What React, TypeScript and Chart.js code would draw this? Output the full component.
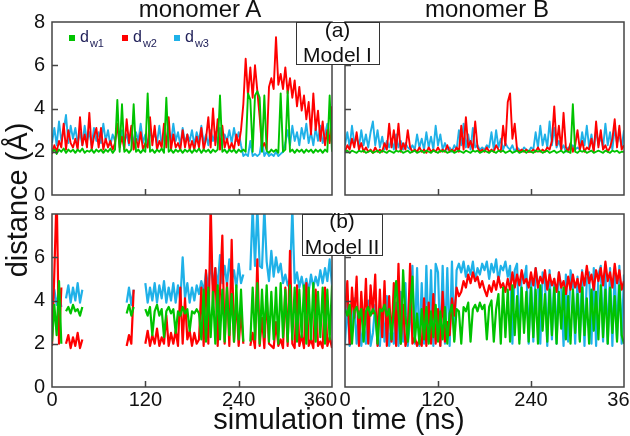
import React, { useEffect, useRef } from "react";
import { Chart, registerables } from "chart.js";

Chart.register(...registerables);

const FONT = "'Liberation Sans', Arial, Helvetica, sans-serif";

// ---- axes ----
const STEP_NS = 3; // sampling step of the series (ns)
const X_MIN = 0;
const X_MAX = 360;
const X_TICKS = [0, 120, 240, 360];
const Y_MIN = 0;
const Y_MAX = 8;
const Y_STEP = 2;
const INNER_X_TICKS = [120, 240];
const INNER_Y_TICKS = [2, 4, 6];

// ---- series ----
const SERIES_SUBS = ["w1", "w2", "w3"];
const SERIES_COLORS = ["#00c300", "#ff0000", "#1fb1e8"];

// Model I, monomer A
const A1_DW1 = [
  2.0, 2.1, 1.9, 2.1, 2.0, 2.15, 1.95, 2.1, 2.0, 2.1,
  1.95, 2.1, 2.0, 2.15, 1.95, 2.05, 2.0, 2.1, 1.95, 2.1,
  2.0, 2.1, 1.95, 2.1, 2.0, 2.15, 1.95, 2.1, 4.4, 2.0,
  4.2, 2.0, 2.1, 1.95, 2.1, 4.2, 2.0, 2.1, 1.95, 2.1,
  2.0, 4.7, 2.0, 2.1, 1.95, 2.1, 2.0, 2.15, 1.95, 4.5,
  2.0, 2.1, 1.95, 2.1, 2.0, 2.1, 1.95, 2.1, 2.0, 2.1,
  1.95, 2.1, 2.0, 2.15, 1.95, 2.1, 2.0, 2.1, 1.95, 2.1,
  2.0, 2.1, 4.6, 2.0, 2.1, 1.95, 2.1, 2.0, 2.1, 1.95,
  2.1, 2.0, 2.1, 2.0, 4.7, 4.4, 2.0, 4.6, 4.8, 4.5,
  2.0, 4.6, 2.05, 1.95, 2.1, 2.0, 2.1, 1.95, 4.7, 2.0,
  2.1, 4.8, 2.0, 2.1, 1.95, 2.1, 2.0, 2.1, 1.95, 2.1,
  2.0, 2.1, 1.95, 2.1, 2.0, 2.1, 1.95, 2.1, 2.0, 4.6,
  2.0,
];
const A1_DW2 = [
  1.9, 2.3, 2.0, 2.5, 2.2, 3.3, 2.1, 3.0, 2.4, 2.2,
  2.6, 2.1, 3.6, 2.3, 2.8, 2.2, 3.8, 2.1, 2.7, 3.1,
  2.2, 3.1, 2.1, 2.6, 2.2, 2.5, 2.1, 2.4, 3.3, 2.2,
  2.7, 2.1, 3.5, 2.4, 3.2, 2.1, 2.6, 2.2, 2.9, 2.1,
  2.4, 2.2, 3.6, 2.3, 3.2, 2.1, 2.5, 2.2, 3.3, 2.2,
  3.6, 2.1, 2.8, 2.2, 2.4, 2.1, 3.0, 2.2, 2.8, 2.1,
  2.5, 2.1, 2.7, 2.2, 3.1, 2.1, 2.6, 3.6, 2.2, 4.0,
  2.3, 3.5, 2.1, 3.2, 2.2, 2.6, 2.1, 2.4, 2.1, 2.8,
  2.3, 3.0, 4.2, 6.3, 4.6, 5.9, 4.5, 6.0, 4.8, 3.6,
  2.2, 2.4, 2.1, 5.0, 5.4, 4.9, 7.3, 5.1, 5.6, 4.9,
  5.9, 4.7, 5.4, 4.5, 5.3, 4.1, 5.0, 3.9, 4.6, 3.5,
  4.3, 2.8, 4.7, 3.0, 3.9, 2.5, 3.4, 2.3, 3.0, 2.4,
  4.1,
];
const A1_DW3 = [
  2.4, 3.1, 2.3, 3.4, 2.5, 3.0, 3.7, 2.4, 3.2, 2.6,
  3.1, 2.4, 2.9, 2.3, 3.2, 2.5, 2.9, 2.3, 3.1, 2.5,
  2.9, 2.4, 3.3, 2.5, 3.0, 2.3, 2.8, 2.5, 3.2, 2.4,
  3.0, 2.5, 2.8, 2.3, 3.1, 2.4, 2.9, 2.5, 3.3, 2.4,
  2.8, 2.3, 3.0, 2.5, 2.9, 2.4, 3.2, 2.3, 2.8, 2.5,
  3.1, 2.4, 3.3, 2.5, 2.9, 2.3, 3.1, 2.4, 2.8, 2.5,
  3.0, 2.3, 2.9, 2.5, 3.2, 2.4, 2.8, 2.3, 3.0, 2.5,
  2.9, 2.4, 3.1, 2.3, 2.8, 2.5, 3.0, 2.4, 3.1, 2.5,
  2.9, 2.3, 1.8, 1.9, 1.8, 2.5, 1.8, 1.9, 1.8, 1.9,
  2.6, 1.8, 2.0, 1.8, 1.9, 1.8, 2.0, 1.8, 1.9, 2.0,
  2.4, 3.0, 2.3, 3.2, 2.5, 2.9, 2.3, 3.1, 2.6, 3.3,
  2.4, 2.9, 2.3, 3.1, 2.5, 3.2, 2.4, 2.8, 3.3, 2.5,
  3.0,
];

// Model I, monomer B
const B1_DW1 = [
  2.0, 2.05, 1.95, 2.05, 2.0, 1.95, 2.05, 2.0, 2.05, 1.95,
  2.0, 2.05, 1.95, 2.0, 2.05, 1.95, 2.05, 2.0, 1.95, 2.05,
  2.0, 1.95, 2.05, 2.0, 2.05, 1.95, 2.0, 2.05, 1.95, 2.0,
  2.05, 1.95, 2.0, 2.05, 1.95, 2.05, 2.0, 1.95, 2.05, 2.0,
  1.95, 2.05, 2.0, 2.05, 1.95, 2.0, 2.05, 1.95, 2.0, 2.05,
  2.0, 1.95, 2.05, 2.0, 1.95, 2.05, 2.0, 2.05, 1.95, 2.0,
  2.05, 2.0, 1.95, 2.05, 2.0, 1.95, 2.05, 2.0, 2.05, 1.95,
  2.0, 2.05, 1.95, 2.0, 2.05, 1.95, 2.0, 2.05, 1.95, 2.05,
  2.0, 1.95, 2.05, 2.0, 2.05, 1.95, 2.0, 2.05, 1.95, 2.0,
  2.05, 1.95, 2.0, 2.05, 1.95, 2.05, 2.0, 1.95, 4.2, 2.0,
  1.95, 2.05, 2.0, 2.05, 1.95, 2.0, 2.05, 1.95, 2.0, 2.05,
  2.0, 1.95, 2.05, 2.0, 1.95, 2.05, 2.0, 2.05, 1.95, 2.0,
  2.0,
];
const B1_DW2 = [
  2.0, 2.3, 2.1, 2.6, 2.2, 2.9, 2.1, 2.4, 2.0, 2.2,
  2.0, 2.1, 1.95, 2.2, 2.0, 2.1, 2.0, 2.4, 2.1, 3.3,
  2.2, 3.0, 2.1, 3.3, 2.0, 2.4, 2.1, 3.0, 2.2, 2.0,
  2.1, 2.0, 2.2, 2.0, 2.1, 1.95, 2.2, 2.0, 2.1, 2.0,
  2.2, 2.0, 2.1, 2.0, 2.3, 2.0, 2.1, 2.0, 2.2, 2.0,
  3.2, 2.1, 3.6, 2.2, 2.5, 2.1, 3.4, 2.2, 2.0, 2.1,
  2.0, 2.2, 2.0, 2.1, 2.0, 2.3, 2.1, 2.0, 3.2, 2.3,
  4.3, 4.7, 2.6, 3.3, 2.1, 2.0, 2.1, 2.0, 2.1, 2.0,
  2.0, 2.1, 2.0, 2.2, 2.0, 2.1, 2.0, 2.2, 2.1, 2.5,
  4.1, 2.3, 3.2, 2.1, 3.8, 2.2, 2.0, 2.4, 2.0, 2.3,
  3.0, 2.1, 2.5, 2.0, 2.2, 2.1, 2.6, 2.0, 3.4, 2.2,
  3.0, 2.1, 2.3, 2.0, 2.2, 2.6, 3.5, 2.2, 3.2, 2.1,
  2.3,
];
const B1_DW3 = [
  2.3, 2.9, 2.2, 3.2, 2.4, 2.7, 2.2, 3.0, 2.3, 2.8,
  2.2, 2.9, 3.4, 2.3, 3.0, 2.2, 2.7, 2.1, 2.5, 2.2,
  2.6, 2.1, 2.8, 2.2, 2.5, 2.1, 2.4, 2.2, 2.1, 2.3,
  2.1, 2.8, 2.2, 2.6, 2.1, 2.9, 2.2, 2.7, 2.1, 3.2,
  2.3, 2.8, 2.1, 2.4, 2.1, 2.2, 2.0, 2.3, 2.1, 3.0,
  2.3, 3.3, 2.2, 2.8, 2.1, 3.1, 2.2, 2.3, 2.1, 2.2,
  2.1, 2.3, 2.2, 2.9, 2.1, 3.0, 2.2, 2.6, 2.1, 2.4,
  2.2, 2.1, 2.3, 2.0, 2.2, 2.1, 2.0, 2.2, 2.1, 2.0,
  2.2, 2.1, 2.9, 2.2, 3.2, 2.3, 2.8, 2.2, 3.4, 2.3,
  3.1, 2.2, 2.5, 2.1, 2.3, 2.0, 2.2, 2.1, 2.3, 2.1,
  2.2, 2.1, 2.9, 2.3, 3.2, 2.2, 2.8, 2.1, 3.0, 2.3,
  2.7, 2.2, 3.3, 2.3, 2.9, 2.1, 3.1, 2.4, 2.8, 2.2,
  3.0,
];

// Model II, monomer A (null = no data)
const A2_DW1 = [
  2.1, 3.8, 2.4, 4.9, 2.0, null, 3.5, 3.7, 3.4, 3.8,
  3.5, 3.6, 3.3, 3.7, null, null, null, null, null, null,
  null, null, null, null, null, null, null, null, null, null,
  null, null, 3.4, 3.8, 3.3, 3.7, null, null, null, null,
  3.6, 3.3, 3.7, 2.4, 3.5, 3.8, 3.3, 3.6, 2.3, 3.5,
  3.7, 3.4, 3.6, 2.5, 3.5, 3.3, 3.7, 3.4, 3.6, 2.6,
  3.5, 3.4, 3.6, 3.4, 2.2, 4.5, 2.1, 4.6, 2.3, 4.4,
  2.0, 4.7, 2.2, 4.5, 2.1, 4.6, 2.4, 4.3, 2.1, 4.7,
  2.2, 4.5, 2.1, null, null, 2.1, 4.6, 2.2, 4.8, 2.0,
  4.5, 2.3, 4.7, 2.1, 4.4, 2.2, 4.6, 2.0, 4.8, 2.3,
  4.5, 2.1, 4.7, 2.2, 4.6, 2.1, 4.5, 2.3, 4.7, 2.0,
  4.6, 2.2, 4.8, 2.1, 4.4, 2.3, 4.6, 2.0, 4.5, 2.2,
  4.7,
];
const A2_DW2 = [
  1.9, 5.3, 9.0, 2.0, 4.6, null, 2.0, 2.4, 1.8, 2.3,
  1.9, 2.5, 1.8, 2.2, null, null, null, null, null, null,
  null, null, null, null, null, null, null, null, null, null,
  null, null, 1.9, 2.4, 2.0, 4.5, null, null, null, null,
  2.0, 2.6, 1.9, 2.4, 2.0, 2.7, 1.9, 2.3, 2.0, 3.3,
  1.9, 2.5, 2.0, 2.6, 1.9, 4.6, 2.0, 4.1, 2.2, 2.6,
  1.9, 2.5, 2.0, 2.2, 4.6, 1.9, 5.4, 2.0, 8.5, 3.8,
  5.5, 1.9, 4.4, 7.0, 2.0, 4.8, 1.9, 6.8, 2.1, 4.1,
  1.9, 3.5, 2.0, null, null, 1.9, 2.5, 1.8, 5.9, 1.9,
  3.2, 1.8, 4.2, 2.0, 1.9, 1.8, 3.0, 1.9, 2.2, 1.8,
  4.6, 1.9, 6.3, 2.0, 1.8, 4.7, 1.9, 2.4, 1.8, 4.8,
  1.9, 2.2, 1.8, 4.5, 1.9, 2.1, 1.8, 4.6, 1.9, 2.3,
  1.8,
];
const A2_DW3 = [
  3.6, 4.5, 3.8, 4.4, 3.7, null, 4.1, 4.7, 3.9, 4.6,
  4.0, 4.8, 3.9, 4.5, null, null, null, null, null, null,
  null, null, null, null, null, null, null, null, null, null,
  null, null, 3.9, 4.6, 3.8, 4.5, null, null, null, null,
  4.8, 3.9, 4.6, 4.0, 4.8, 3.9, 4.7, 4.1, 4.9, 3.9,
  4.6, 4.0, 4.8, 3.9, 4.7, 4.0, 6.0, 4.1, 4.8, 3.9,
  4.6, 4.0, 4.7, 4.3, 4.9, 4.4, 5.3, 4.6, 5.8, 4.7,
  5.5, 4.6, 6.1, 4.8, 5.6, 4.7, 5.9, 4.9, 5.4, 4.6,
  5.7, 4.8, 5.2, null, null, 5.4, 8.3, 5.6, 8.3, 5.6,
  5.5, 8.3, 5.8, 4.9, 6.3, 5.1, 6.0, 5.3, 5.7, 4.8,
  5.2, 4.7, 5.0, 8.3, 4.8, 5.3, 4.6, 5.1, 4.5, 5.0,
  4.4, 5.2, 4.6, 5.1, 4.7, 5.4, 4.8, 5.5, 4.9, 5.9,
  4.7,
];

// Model II, monomer B
const B2_DW1 = [
  3.6, 3.3, 3.8, 2.0, 3.5, 3.7, 3.2, 3.6, 2.1, 3.5,
  3.7, 3.3, 3.6, 3.4, 2.0, 3.6, 3.5, 3.8, 3.3, 3.6,
  2.2, 3.5, 4.9, 3.4, 2.0, 5.4, 3.3, 2.1, 3.6, 5.1,
  2.1, 3.4, 2.0, 3.6, 2.2, 3.7, 2.0, 3.5, 2.3, 3.8,
  2.1, 3.5, 2.2, 3.7, 2.0, 3.4, 3.8, 2.1, 3.6, 3.5,
  2.0, 3.7, 3.5, 3.9, 2.1, 3.6, 3.8, 3.5, 3.9, 3.6,
  3.8, 2.2, 3.7, 4.0, 2.1, 3.6, 4.3, 2.0, 4.6, 2.3,
  4.5, 2.1, 4.7, 2.4, 4.2, 2.0, 4.6, 2.5, 4.4, 2.1,
  4.6, 2.3, 4.5, 2.0, 4.7, 2.6, 4.3, 2.1, 4.5, 2.4,
  4.6, 2.0, 4.4, 2.7, 4.6, 2.2, 4.2, 2.0, 4.5, 2.5,
  4.3, 2.1, 4.6, 2.4, 4.1, 2.0, 4.5, 2.6, 4.4, 2.2,
  4.7, 2.3, 4.5, 2.0, 4.6, 2.5, 4.2, 2.1, 4.7, 2.4,
  2.0,
];
const B2_DW2 = [
  3.5, 4.9, 2.0, 4.6, 3.2, 5.1, 1.9, 4.4, 2.6, 5.0,
  2.0, 4.7, 3.4, 5.2, 1.9, 4.5, 2.3, 4.9, 1.9, 4.2,
  2.1, 4.8, 1.9, 5.7, 2.0, 3.8, 1.9, 2.4, 5.7, 2.0,
  2.3, 1.9, 2.2, 1.9, 4.1, 1.9, 3.9, 2.0, 4.3, 2.0,
  3.6, 1.9, 4.4, 2.1, 3.0, 2.4, 4.1, 3.3, 4.6, 4.2,
  4.4, 4.9, 4.6, 5.2, 4.8, 5.3, 4.9, 5.1, 4.6, 4.9,
  4.5, 4.2, 4.7, 4.4, 4.9, 4.5, 5.1, 4.6, 4.8, 4.4,
  5.0, 4.5, 5.3, 4.6, 5.2, 4.7, 5.4, 4.8, 5.0, 4.6,
  5.3, 4.7, 5.5, 4.6, 5.1, 4.8, 5.4, 4.5, 5.2, 4.7,
  5.0, 4.4, 5.3, 4.6, 4.9, 4.3, 5.1, 4.5, 5.2, 4.6,
  5.0, 4.4, 5.3, 4.7, 5.6, 4.8, 5.2, 4.5, 5.4, 4.9,
  5.5, 4.7, 5.8, 4.9, 5.3, 4.6, 5.7, 4.8, 5.4, 4.5,
  4.9,
];
const B2_DW3 = [
  2.0, 3.9, 1.9, 2.6, 4.1, 2.0, 3.5, 1.9, 2.8, 2.0,
  4.0, 1.9, 2.5, 3.8, 2.0, 1.9, 3.6, 2.1, 4.2, 1.9,
  2.7, 2.0, 3.9, 1.9, 4.4, 2.1, 4.8, 1.9, 3.1, 5.6,
  2.0, 5.5, 1.9, 4.8, 2.0, 5.6, 2.1, 5.4, 1.9, 5.7,
  5.3, 1.9, 5.6, 2.0, 5.5, 1.9, 5.8, 2.2, 5.4, 5.7,
  5.3, 5.8, 5.1, 5.6, 5.2, 5.8, 4.9, 5.5, 5.2, 5.7,
  5.4, 5.8, 5.0, 5.7, 5.3, 5.9, 4.9, 5.6, 5.4, 5.8,
  5.1, 5.6, 2.0, 5.4, 5.7, 2.2, 5.3, 4.9, 5.6, 2.0,
  5.2, 2.1, 5.5, 4.8, 2.0, 5.3, 5.0, 1.9, 5.4, 2.2,
  5.0, 2.0, 5.3, 4.6, 1.9, 5.2, 2.1, 5.4, 4.8, 2.0,
  5.1, 2.2, 5.4, 1.9, 5.0, 5.3, 2.0, 5.5, 1.9, 5.2,
  5.6, 2.1, 5.3, 2.0, 5.5, 1.9, 5.4, 2.2, 5.6, 2.0,
  5.2,
];

type PanelProps = {
  left: number;
  top: number;
  width: number;
  height: number;
  padding: { left: number; right: number; top: number; bottom: number };
  showX: boolean;
  showY: boolean;
  lastLabelShift: number;
  lineWidth: number;
  series: (number | null)[][];
};

function makeFramePlugin(p: PanelProps) {
  return {
    id: "panelFrame",
    afterDatasetsDraw(chart: any) {
      const { ctx, chartArea: a, scales } = chart;
      ctx.save();
      ctx.strokeStyle = "#444";
      ctx.lineWidth = 1.5;
      ctx.strokeRect(a.left, a.top, a.right - a.left, a.bottom - a.top);
      ctx.beginPath();
      INNER_Y_TICKS.forEach((v) => {
        const y = Math.round(scales.y.getPixelForValue(v)) + 0.5;
        ctx.moveTo(a.left, y);
        ctx.lineTo(a.left + 6, y);
      });
      INNER_X_TICKS.forEach((v) => {
        const x = Math.round(scales.x.getPixelForValue(v)) + 0.5;
        ctx.moveTo(x, a.bottom);
        ctx.lineTo(x, a.bottom - 6);
      });
      ctx.stroke();
      if (p.showX) {
        ctx.font = "20px " + FONT;
        ctx.textBaseline = "alphabetic";
        ctx.fillStyle = "#111";
        X_TICKS.forEach((v, i) => {
          let x = scales.x.getPixelForValue(v);
          let align = "center";
          if (i === X_TICKS.length - 1 && p.lastLabelShift) {
            align = "right";
            x += p.lastLabelShift;
          }
          ctx.textAlign = align;
          ctx.fillText(String(v), x, a.bottom + 19);
        });
      }
      ctx.restore();
    },
  };
}

function Panel(p: PanelProps) {
  const ref = useRef<HTMLCanvasElement>(null);
  useEffect(() => {
    if (!ref.current) return;
    const tickFont = { family: FONT, size: 20 };
    const chart = new Chart(ref.current, {
      type: "line",
      data: {
        datasets: p.series.map((arr, k) => ({
          label: "d" + SERIES_SUBS[k],
          data: arr.map((v, i) => ({ x: i * STEP_NS, y: v })),
          borderColor: SERIES_COLORS[k],
          backgroundColor: SERIES_COLORS[k],
          borderWidth: p.lineWidth,
          borderJoinStyle: "round",
          pointRadius: 0,
          pointHoverRadius: 0,
          tension: 0,
          fill: false,
          spanGaps: false,
        })),
      },
      options: {
        animation: false,
        responsive: false,
        events: [],
        layout: { padding: p.padding },
        plugins: { legend: { display: false }, tooltip: { enabled: false } },
        scales: {
          x: {
            type: "linear",
            min: X_MIN,
            max: X_MAX,
            display: false,
          },
          y: {
            type: "linear",
            min: Y_MIN,
            max: Y_MAX,
            display: p.showY,
            grid: { display: false, drawTicks: false },
            border: { display: false },
            ticks: { stepSize: Y_STEP, padding: 7, color: "#111", font: tickFont },
            afterFit: (s: any) => {
              s.width = p.showY ? 30 : 0;
              s.paddingTop = 0;
              s.paddingBottom = 0;
            },
          },
        },
      } as any,
      plugins: [makeFramePlugin(p)],
    });
    return () => chart.destroy();
  }, []);
  return (
    <canvas
      ref={ref}
      width={p.width}
      height={p.height}
      style={{ position: "absolute", left: p.left, top: p.top, width: p.width, height: p.height }}
    />
  );
}

function TextLine(props: { x: number; baseline: number; size: number; w: number; children: any }) {
  const { x, baseline, size, w } = props;
  const top = baseline - 0.8465 * size;
  return (
    <div
      style={{
        position: "absolute",
        left: x - w / 2,
        top,
        width: w,
        fontSize: size,
        lineHeight: size + "px",
        fontFamily: FONT,
        textAlign: "center",
        color: "#111",
        whiteSpace: "nowrap",
      }}
    >
      {props.children}
    </div>
  );
}

function ModelBox(props: { left: number; top: number; w: number; h: number; l1: string; l2: string; b1: number; b2: number }) {
  const { left, top, w, h, l1, l2, b1, b2 } = props;
  return (
    <div
      style={{
        position: "absolute",
        left,
        top,
        width: w,
        height: h,
        boxSizing: "border-box",
        border: "1.5px solid #333",
        background: "#fff",
      }}
    >
      <TextLine x={w / 2 - 1.5} baseline={b1 - 1.5} size={21} w={w + 20}>{l1}</TextLine>
      <TextLine x={w / 2 - 1.5} baseline={b2 - 1.5} size={21} w={w + 20}>{l2}</TextLine>
    </div>
  );
}

function LegendItem(props: { x: number; color: string; sub: string }) {
  return (
    <>
      <div
        style={{ position: "absolute", left: props.x, top: 35, width: 6, height: 6, background: props.color }}
      />
      <div
        style={{
          position: "absolute",
          left: props.x + 11,
          top: 29,
          fontSize: 16,
          lineHeight: "16px",
          fontFamily: FONT,
          color: "#23235b",
          whiteSpace: "nowrap",
        }}
      >
        d
        <span style={{ fontSize: 11, position: "relative", top: 5, marginLeft: 1 }}>{props.sub}</span>
      </div>
    </>
  );
}

export default function App() {
  return (
    <div style={{ position: "absolute", left: 0, top: 0, width: 630, height: 436, background: "#fff", overflow: "hidden" }}>
      <Panel
        left={12}
        top={10}
        width={340}
        height={191}
        padding={{ left: 10, right: 20, top: 12, bottom: 6 }}
        showX={false}
        showY={true}
        lastLabelShift={0}
        lineWidth={1.9}
        series={[A1_DW1, A1_DW2, A1_DW3]}
      />
      <Panel
        left={335}
        top={10}
        width={295}
        height={191}
        padding={{ left: 10, right: 6, top: 12, bottom: 6 }}
        showX={false}
        showY={false}
        lastLabelShift={0}
        lineWidth={1.9}
        series={[B1_DW1, B1_DW2, B1_DW3]}
      />
      <Panel
        left={12}
        top={202}
        width={340}
        height={213}
        padding={{ left: 10, right: 20, top: 12, bottom: 28 }}
        showX={true}
        showY={true}
        lastLabelShift={5}
        lineWidth={2.2}
        series={[A2_DW1, A2_DW2, A2_DW3]}
      />
      <Panel
        left={335}
        top={202}
        width={295}
        height={213}
        padding={{ left: 10, right: 6, top: 12, bottom: 28 }}
        showX={true}
        showY={false}
        lastLabelShift={0}
        lineWidth={2.2}
        series={[B2_DW1, B2_DW2, B2_DW3]}
      />

      <TextLine x={200} baseline={17} size={24} w={220}>monomer A</TextLine>
      <TextLine x={487} baseline={17} size={24} w={220}>monomer B</TextLine>

      <LegendItem x={69} color={SERIES_COLORS[0]} sub={SERIES_SUBS[0]} />
      <LegendItem x={122} color={SERIES_COLORS[1]} sub={SERIES_SUBS[1]} />
      <LegendItem x={174} color={SERIES_COLORS[2]} sub={SERIES_SUBS[2]} />

      <ModelBox left={296} top={22} w={84} h={43} l1="(a)" l2="Model I" b1={15.6} b2={40.7} />
      <ModelBox left={302} top={214} w={81} h={42} l1="(b)" l2="Model II" b1={14} b2={40.5} />

      <div
        style={{
          position: "absolute",
          left: 17 - 110,
          top: 200 - 15,
          width: 220,
          height: 30,
          lineHeight: "30px",
          fontSize: 29,
          fontFamily: FONT,
          textAlign: "center",
          color: "#111",
          transform: "rotate(-90deg)",
          whiteSpace: "nowrap",
        }}
      >
        distance (Å)
      </div>
      <TextLine x={339} baseline={430} size={29} w={400}>simulation time (ns)</TextLine>
    </div>
  );
}
